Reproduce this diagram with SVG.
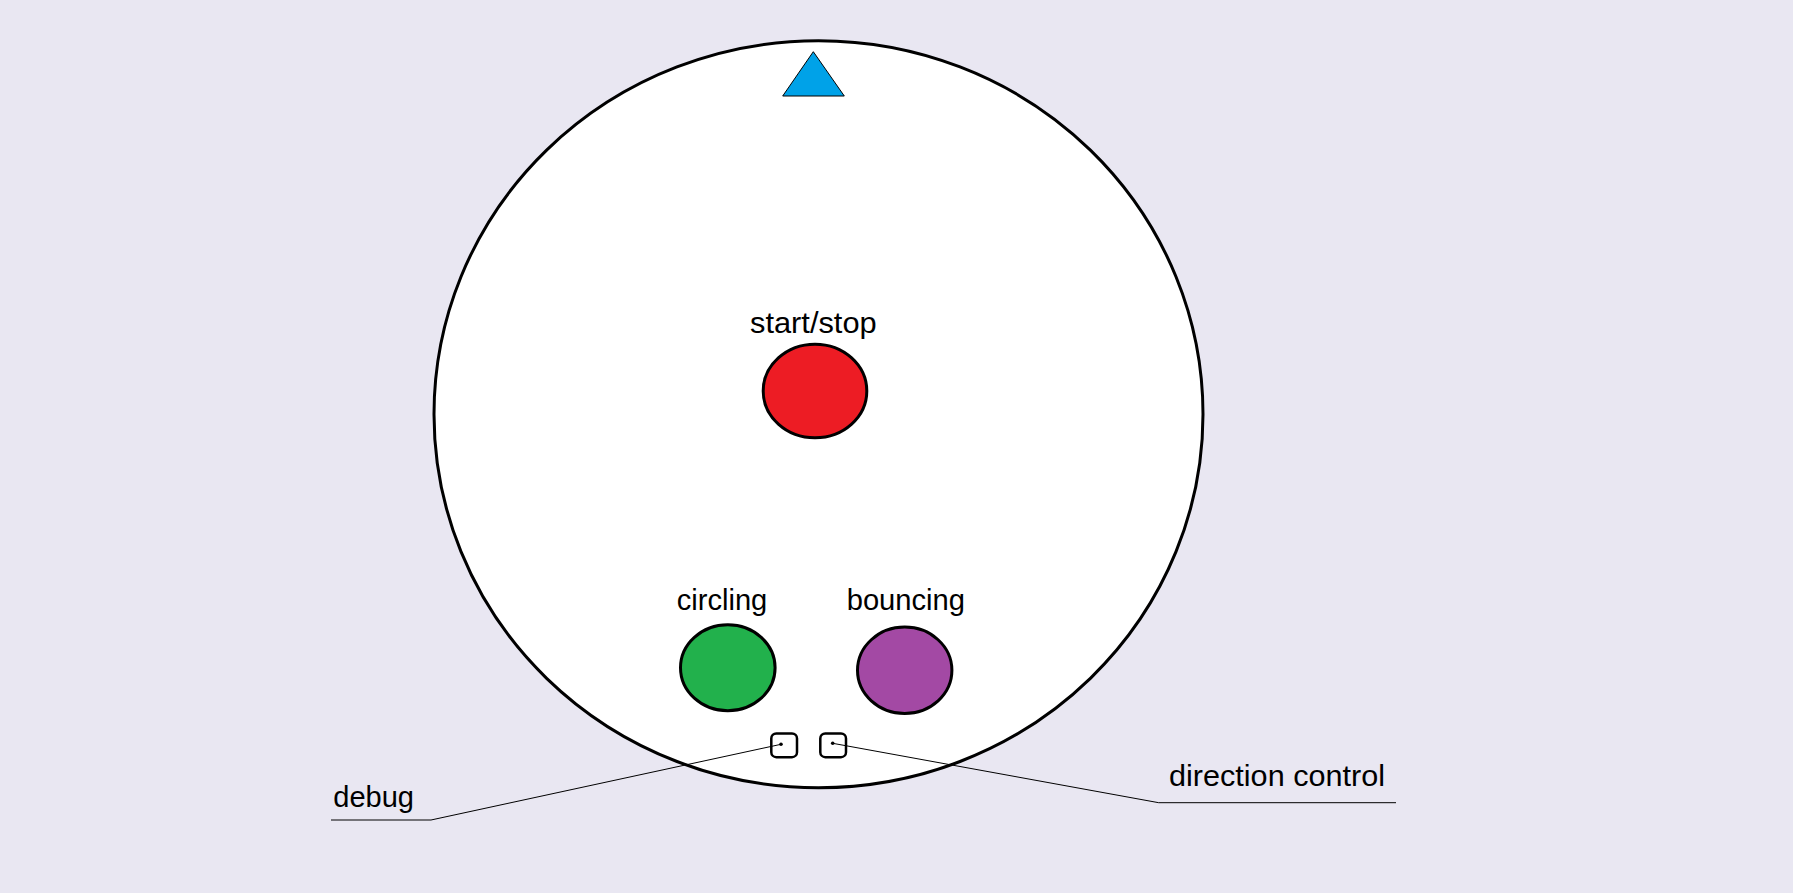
<svg xmlns="http://www.w3.org/2000/svg" width="1793" height="893" viewBox="0 0 1793 893">
<style>
.lbl{font-family:"Liberation Sans",Arial,sans-serif;font-size:29px;fill:#000}
.btn{stroke:#000;stroke-width:3}
.sq{fill:#fff;stroke:#000;stroke-width:2.5}
.ln{fill:none;stroke:#000;stroke-width:1}
</style>
<rect x="0" y="0" width="1793" height="893" fill="#E9E7F2"/>
<g id="body">
<ellipse cx="818.5" cy="414.2" rx="384.5" ry="373.5" fill="#fff" stroke="#000" stroke-width="3"/>
</g>
<g id="indicator">
<polygon points="813.3,51.7 782.7,96 844.3,96" fill="#00A2E8" stroke="#000" stroke-width="1"/>
</g>
<g id="startstop">
<ellipse class="btn" cx="815" cy="391" rx="51.8" ry="46.8" fill="#ED1C24"/>
<text class="lbl" x="750" y="333.3" textLength="126.7" lengthAdjust="spacingAndGlyphs">start/stop</text>
</g>
<g id="circling">
<ellipse class="btn" cx="727.8" cy="667.8" rx="47.3" ry="43" fill="#22B14C"/>
<text class="lbl" x="676.7" y="610" textLength="90.6" lengthAdjust="spacingAndGlyphs">circling</text>
</g>
<g id="bouncing">
<ellipse class="btn" cx="904.7" cy="670.3" rx="47.2" ry="43.2" fill="#A349A4"/>
<text class="lbl" x="846.7" y="610" textLength="118.3" lengthAdjust="spacingAndGlyphs">bouncing</text>
</g>
<g id="debug">
<rect class="sq" x="771.3" y="733.5" width="25.7" height="23.7" rx="5"/>
<text class="lbl" x="333.3" y="807.3" textLength="80.7" lengthAdjust="spacingAndGlyphs">debug</text>
</g>
<g id="direction">
<rect class="sq" x="820.3" y="733.5" width="25.7" height="23.7" rx="5"/>
<text class="lbl" x="1169" y="786" textLength="216" lengthAdjust="spacingAndGlyphs">direction control</text>
</g>
<g id="connectors">
<polyline class="ln" points="331,820 431,820 781,744.3"/>
<polyline class="ln" points="1396,802.7 1158.7,802.7 832.7,743.3"/>
<circle cx="781" cy="744.3" r="1.8" fill="#000"/>
<circle cx="832.7" cy="743.3" r="1.8" fill="#000"/>
</g>
</svg>
